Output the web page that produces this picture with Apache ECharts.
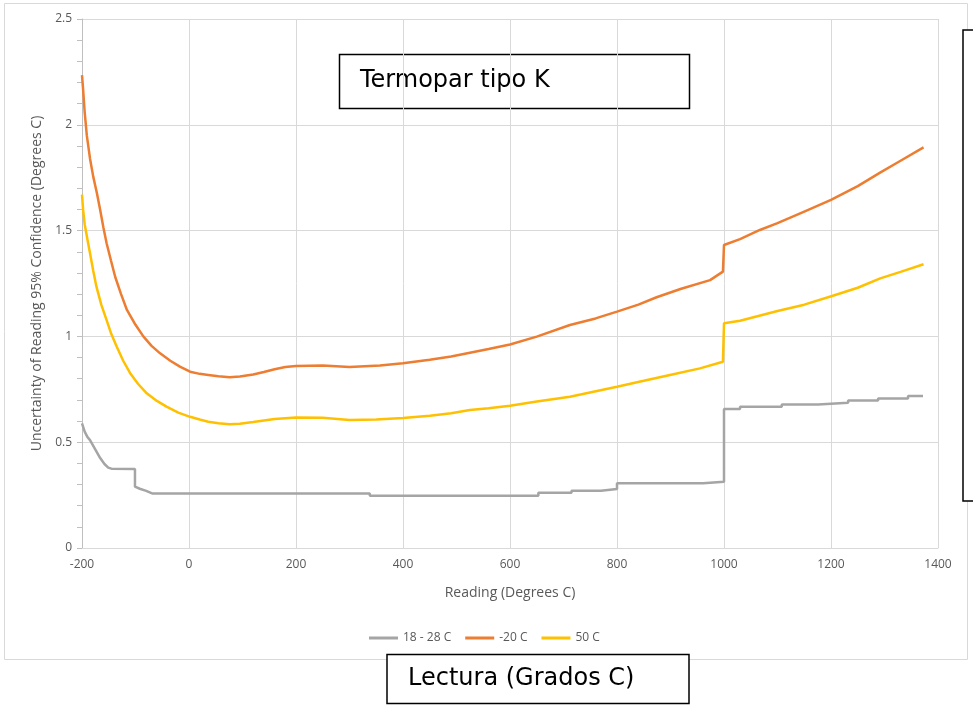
<!DOCTYPE html>
<html>
<head>
<meta charset="utf-8">
<script src="https://cdn.jsdelivr.net/npm/echarts@6/dist/echarts.min.js"></script>
<style>html,body{margin:0;padding:0;background:#fff;}#c{width:973px;height:705px;}</style>
</head>
<body>
<div id="c"></div>
<script>
var xTicks = [-200, 0, 200, 400, 600, 800, 1000, 1200, 1400];
var yTicks = [0, 0.5, 1, 1.5, 2, 2.5];
var seriesNames = ['18 - 28 C', '-20 C', '50 C'];

var gray = [[-200,0.589],[-195,0.55],[-190,0.525],[-185,0.51],[-175,0.465],[-166,0.425],[-158,0.397],[-151,0.38],[-145,0.375],[-101,0.373],[-101,0.29],[-92,0.28],[-80,0.27],[-69,0.258],[338,0.258],[338,0.247],[653,0.247],[653,0.261],[715,0.261],[715,0.271],[770,0.271],[770,0.279],[800,0.279],[800,0.306],[961,0.306],[961,0.313],[1000,0.313],[1000,0.657],[1030,0.657],[1030,0.668],[1108,0.668],[1108,0.678],[1176,0.678],[1176,0.687],[1232,0.687],[1232,0.697],[1288,0.697],[1288,0.707],[1344,0.707],[1344,0.718],[1372,0.718]];

var orange = [[-200,2.235],[-198,2.17],[-195,2.06],[-191,1.95],[-185,1.84],[-179,1.755],[-172,1.675],[-166,1.597],[-160,1.515],[-154,1.44],[-146,1.36],[-138,1.282],[-127,1.2],[-116,1.125],[-100,1.055],[-85,0.999],[-70,0.955],[-54,0.92],[-35,0.885],[-17,0.857],[2,0.833],[20,0.823],[36,0.818],[55,0.812],[76,0.807],[95,0.81],[120,0.82],[140,0.832],[160,0.845],[180,0.855],[200,0.86],[250,0.862],[300,0.855],[357,0.862],[400,0.873],[450,0.89],[490,0.905],[525,0.923],[560,0.94],[600,0.962],[650,0.999],[712,1.054],[760,1.085],[800,1.117],[840,1.15],[874,1.185],[920,1.225],[974,1.266],[998,1.306],[1000,1.432],[1030,1.46],[1067,1.503],[1100,1.535],[1150,1.59],[1200,1.645],[1250,1.71],[1291,1.773],[1330,1.83],[1373,1.893]];

var yellow = [[-200,1.67],[-198,1.6],[-195,1.53],[-190,1.46],[-185,1.393],[-179,1.31],[-173,1.235],[-164,1.15],[-154,1.077],[-145,1.01],[-135,0.951],[-123,0.885],[-110,0.826],[-95,0.775],[-79,0.731],[-60,0.695],[-42,0.668],[-20,0.64],[2,0.62],[20,0.607],[36,0.597],[55,0.59],[76,0.585],[95,0.587],[120,0.595],[160,0.61],[200,0.617],[250,0.615],[300,0.605],[350,0.607],[400,0.614],[450,0.625],[490,0.637],[525,0.652],[560,0.66],[600,0.672],[650,0.692],[712,0.715],[800,0.762],[850,0.79],[899,0.818],[955,0.849],[998,0.88],[1000,1.062],[1030,1.074],[1100,1.12],[1150,1.15],[1202,1.191],[1250,1.23],[1292,1.274],[1330,1.305],[1373,1.341]];

var labelColor = '#595959';
var font = 'Open Sans';

var chart = echarts.init(document.getElementById('c'), null, {renderer: 'canvas'});
chart.setOption({
  animation: false,
  backgroundColor: '#fff',
  grid: {left: 82, right: 35, top: 19, bottom: 157, containLabel: false},
  legend: {
    data: seriesNames,
    left: 364, top: 627,
    icon: 'rect', itemWidth: 29, itemHeight: 3, itemGap: 14,
    textStyle: {color: labelColor, fontSize: 12, fontFamily: font}
  },
  xAxis: {
    type: 'value', min: xTicks[0], max: xTicks[xTicks.length - 1], interval: 200,
    name: 'Reading (Degrees C)', nameLocation: 'middle', nameGap: 38,
    nameTextStyle: {color: labelColor, fontSize: 14, fontFamily: font},
    axisLine: {show: true, onZero: false, lineStyle: {color: '#D9D9D9'}},
    axisTick: {show: false},
    axisLabel: {color: labelColor, fontSize: 12, fontFamily: font, margin: 11, formatter: function (v) { return String(v); }},
    splitLine: {show: true, lineStyle: {color: '#D9D9D9'}}
  },
  yAxis: {
    type: 'value', min: yTicks[0], max: yTicks[yTicks.length - 1], interval: 0.5,
    name: 'Uncertainty of Reading 95% Confidence (Degrees C)', nameLocation: 'middle', nameGap: 38,
    nameTextStyle: {color: labelColor, fontSize: 14, fontFamily: font},
    axisLine: {show: true, onZero: false, lineStyle: {color: '#BFBFBF'}},
    axisTick: {show: true, length: 5, lineStyle: {color: '#BFBFBF'}},
    minorTick: {show: true, splitNumber: 5, length: 5, lineStyle: {color: '#BFBFBF'}},
    axisLabel: {color: labelColor, fontSize: 12, fontFamily: font, margin: 10, formatter: function (v) { return String(v); }},
    splitLine: {show: true, lineStyle: {color: '#D9D9D9'}}
  },
  series: [
    {name: seriesNames[0], type: 'line', data: gray, showSymbol: false, symbol: 'none', lineStyle: {color: '#A5A5A5', width: 2.5}, itemStyle: {color: '#A5A5A5'}},
    {name: seriesNames[1], type: 'line', data: orange, showSymbol: false, symbol: 'none', lineStyle: {color: '#ED7D31', width: 2.5}, itemStyle: {color: '#ED7D31'}},
    {name: seriesNames[2], type: 'line', data: yellow, showSymbol: false, symbol: 'none', lineStyle: {color: '#FFC000', width: 2.5}, itemStyle: {color: '#FFC000'}}
  ],
  graphic: [
    {type: 'rect', silent: true, z: -1, shape: {x: 4.5, y: 3.5, width: 963, height: 656}, style: {fill: 'none', stroke: '#D9D9D9', lineWidth: 1}},
    {type: 'rect', silent: true, shape: {x: 339.5, y: 54.5, width: 350, height: 54}, style: {fill: '#fff', stroke: '#000', lineWidth: 1.5}},
    {type: 'text', silent: true, left: 360, top: 69, style: {text: 'Termopar tipo K', fill: '#000', font: '24px "DejaVu Sans"'}},
    {type: 'rect', silent: true, shape: {x: 387, y: 654.5, width: 302, height: 49}, style: {fill: '#fff', stroke: '#000', lineWidth: 1.5}},
    {type: 'text', silent: true, left: 408, top: 667, style: {text: 'Lectura (Grados C)', fill: '#000', font: '24px "DejaVu Sans"'}},
    {type: 'rect', silent: true, shape: {x: 963, y: 30, width: 30, height: 471}, style: {fill: '#fff', stroke: '#000', lineWidth: 1.5}}
  ]
});
</script>
</body>
</html>
